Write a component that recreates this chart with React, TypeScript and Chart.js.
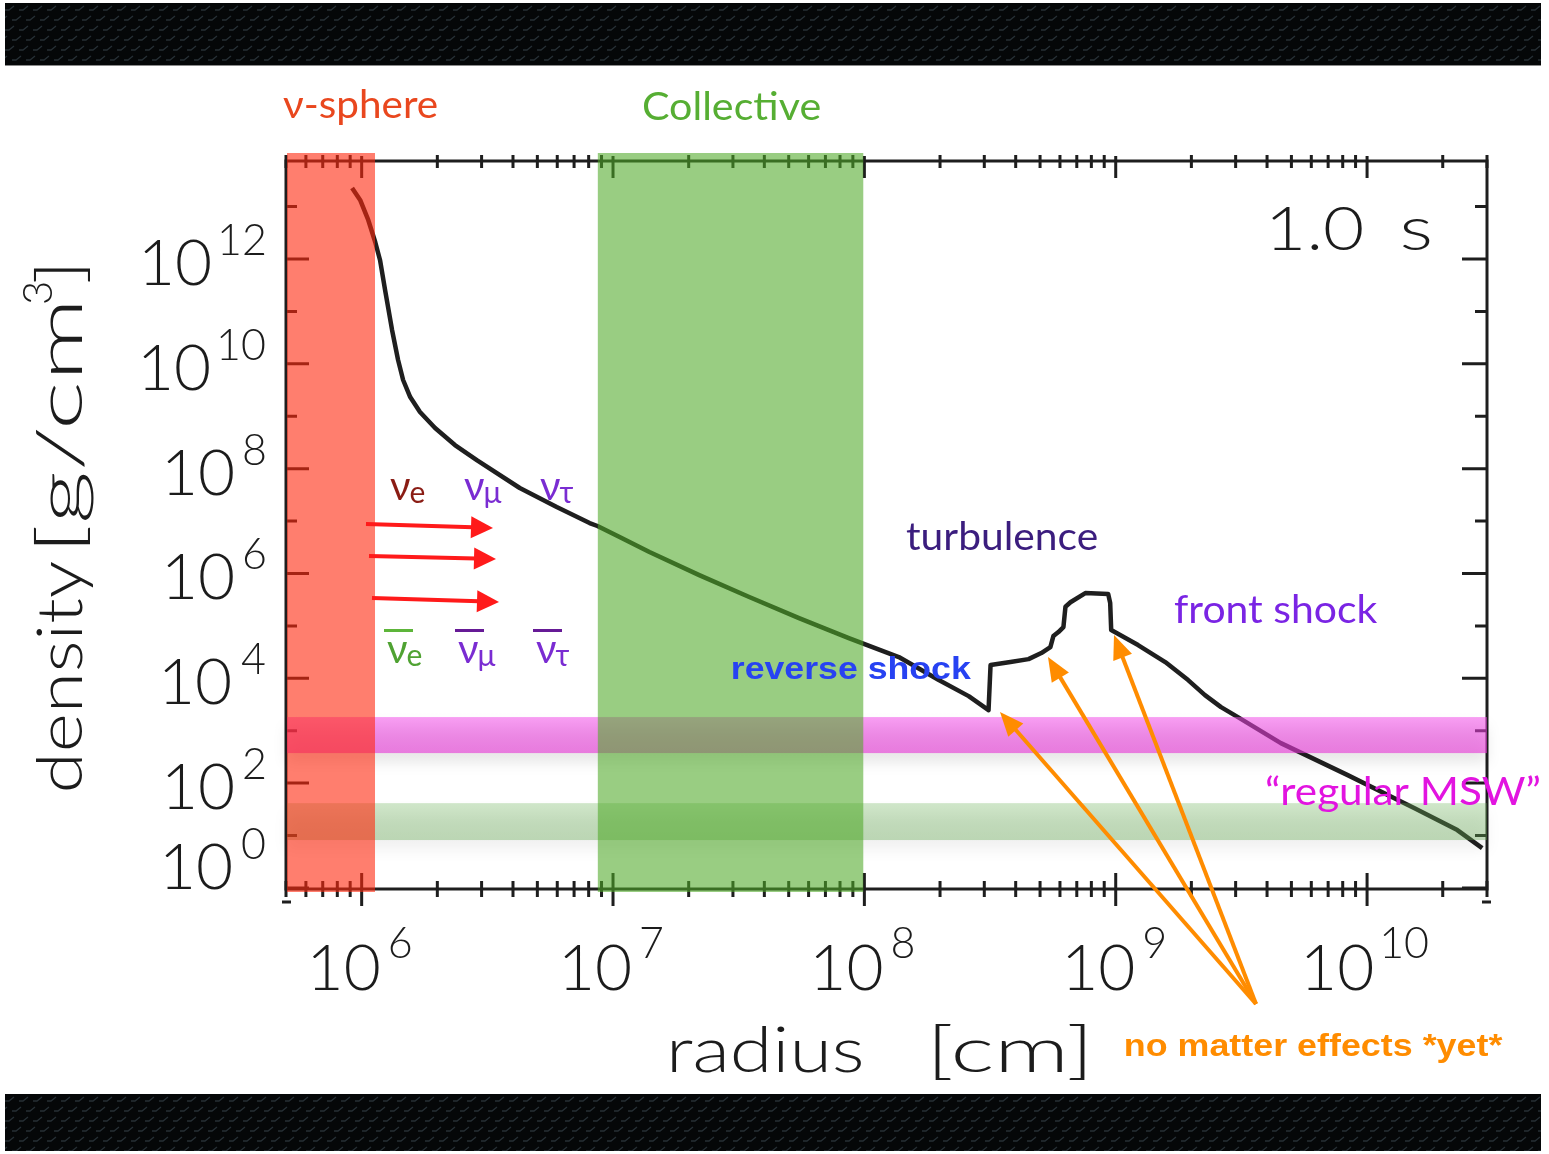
import React, { useEffect, useRef } from 'react';
import { Chart, registerables } from 'chart.js';

Chart.register(...registerables);

// ---- data ----
const RADIUS_CM = [9.16e5, 9.86e5, 1.062e6, 1.132e6, 1.183e6, 1.239e6, 1.321e6, 1.396e6, 1.462e6, 1.56e6, 1.706e6, 1.959e6, 2.35e6, 2.871e6, 4.256e6, 5.97e6, 8.07e6, 8.67e6, 1.062e7, 1.396e7, 2.203e7, 3.483e7, 5.495e7, 8.67e7, 1.371e8, 1.977e8, 2.6e8, 3.119e8, 3.177e8, 3.811e8, 4.498e8, 5.058e8, 5.495e8, 5.649e8, 5.916e8, 6.194e8, 6.31e8, 6.607e8, 7.568e8, 9.333e8, 9.506e8, 9.594e8, 1.227e9, 1.574e9, 1.941e9, 2.265e9, 2.624e9, 3.062e9, 4.539e9, 8.375e9, 1.545e10, 2.286e10, 2.871e10];
const DENSITY = [2.26e13, 1.34e13, 5.55e12, 2.11e12, 9.57e11, 2.56e11, 4.42e10, 1.18e10, 4.91e9, 2.32e9, 1.2e9, 5.96e8, 2.82e8, 1.46e8, 4.27e7, 1.85e7, 9.16e6, 8.04e6, 4.95e6, 2.56e6, 9.31e5, 3.55e5, 1.41e5, 5.85e4, 2.54e4, 9.25e3, 4.57e3, 2.47e3, 1.79e4, 2.04e4, 2.32e4, 3.03e4, 3.94e4, 6.38e4, 7.62e4, 9.48e4, 2.32e5, 2.82e5, 4.23e5, 4.05e5, 2.72e5, 8.32e4, 4.31e4, 2.04e4, 9.25e3, 4.78e3, 2.82e3, 1.82e3, 579, 142, 33.3, 12.7, 5.75];

const X_MIN = 5e5;
const X_MAX = 3e10;
const Y_MIN = 0.955;
const Y_MAX = 7.4e13;
const X_LABEL_DECADES = [6, 7, 8, 9, 10];
const Y_LABEL_DECADES = [0, 2, 4, 6, 8, 10, 12];
const X_TICK_DECADES = [5, 6, 7, 8, 9, 10];
const Y_TICK_DECADES = [0, 1, 2, 3, 4, 5, 6, 7, 8, 9, 10, 11, 12, 13];

const NU_SPHERE_RANGE = [5e5, 1.13e6];
const COLLECTIVE_RANGE = [8.7e6, 9.9e7];
const MSW_DENSITY_RANGE = [374, 1820];
const LOW_DENSITY_RANGE = [8.2, 41.5];

const FONT = "Lato, 'Noto Sans', 'DejaVu Sans', sans-serif";
const BOLD = "'Liberation Sans', Arial, sans-serif";
const AXW = 300;

function fitText(ctx: CanvasRenderingContext2D, text: string, left: number, right: number, baseline: number, font: string, color: string) {
  ctx.save();
  ctx.font = font;
  ctx.fillStyle = color;
  ctx.textAlign = 'left';
  ctx.textBaseline = 'alphabetic';
  const m = ctx.measureText(text);
  const l = -m.actualBoundingBoxLeft;
  const r = m.actualBoundingBoxRight;
  const sx = (right - left) / (r - l);
  ctx.translate(left - l * sx, baseline);
  ctx.scale(sx, 1);
  ctx.fillText(text, 0, 0);
  ctx.restore();
}

function plainText(ctx: CanvasRenderingContext2D, text: string, x: number, y: number, font: string, color: string, align: CanvasTextAlign = 'left') {
  ctx.save();
  ctx.font = font;
  ctx.fillStyle = color;
  ctx.textAlign = align;
  ctx.textBaseline = 'alphabetic';
  ctx.fillText(text, x, y);
  ctx.restore();
}

function arrow(ctx: CanvasRenderingContext2D, x1: number, y1: number, x2: number, y2: number, color: string, lw: number, hl: number, hw: number) {
  const a = Math.atan2(y2 - y1, x2 - x1);
  const bx = x2 - hl * Math.cos(a);
  const by = y2 - hl * Math.sin(a);
  ctx.save();
  ctx.strokeStyle = color;
  ctx.fillStyle = color;
  ctx.lineWidth = lw;
  ctx.lineCap = 'butt';
  ctx.beginPath();
  ctx.moveTo(x1, y1);
  ctx.lineTo(bx + 2 * Math.cos(a), by + 2 * Math.sin(a));
  ctx.stroke();
  ctx.beginPath();
  ctx.moveTo(x2, y2);
  ctx.lineTo(bx + hw * Math.sin(a), by - hw * Math.cos(a));
  ctx.lineTo(bx - hw * Math.sin(a), by + hw * Math.cos(a));
  ctx.closePath();
  ctx.fill();
  ctx.restore();
}

function darkBar(ctx: CanvasRenderingContext2D, x: number, y: number, w: number, h: number) {
  ctx.save();
  ctx.fillStyle = '#050708';
  ctx.fillRect(x, y, w, h);
  ctx.beginPath();
  ctx.rect(x, y, w, h);
  ctx.clip();
  ctx.strokeStyle = 'rgba(72,88,98,0.5)';
  ctx.lineWidth = 1.3;
  let row = 0;
  for (let yy = y + 2; yy < y + h + 10; yy += 10, row++) {
    const off = (row % 2) * 7;
    for (let xx = x - 14 + off; xx < x + w + 14; xx += 14) {
      ctx.beginPath();
      ctx.moveTo(xx, yy + 5);
      ctx.lineTo(xx + 4, yy + 5);
      ctx.lineTo(xx + 9, yy + 1);
      ctx.stroke();
    }
  }
  ctx.restore();
}

function powLabel(ctx: CanvasRenderingContext2D, exp: string, x: number, baseY: number, supY: number, align: 'center' | 'right') {
  ctx.save();
  ctx.font = `${AXW} 64px ${FONT}`;
  const mb = ctx.measureText('10');
  const wb = mb.actualBoundingBoxRight + mb.actualBoundingBoxLeft;
  ctx.font = `${AXW} 43px ${FONT}`;
  const me = ctx.measureText(exp);
  const we = me.actualBoundingBoxRight + me.actualBoundingBoxLeft;
  const gap = 11;
  const total = wb + gap + we;
  const left = align === 'center' ? x - total / 2 : x - total;
  ctx.fillStyle = '#1c1c1c';
  ctx.textAlign = 'left';
  ctx.font = `${AXW} 64px ${FONT}`;
  ctx.fillText('10', left + mb.actualBoundingBoxLeft, baseY);
  ctx.font = `${AXW} 43px ${FONT}`;
  ctx.fillText(exp, left + wb + gap + me.actualBoundingBoxLeft, supY);
  ctx.restore();
}

const overlay = {
  id: 'overlay',
  beforeDraw(chart: any) {
    const ctx: CanvasRenderingContext2D = chart.ctx;
    ctx.save();
    ctx.fillStyle = '#ffffff';
    ctx.fillRect(0, 0, chart.width, chart.height);
    darkBar(ctx, 5, 3, 1536, 62);
    darkBar(ctx, 5, 1094, 1536, 57);
    ctx.fillStyle = '#8a8a8a';
    ctx.fillRect(5, 65, 1536, 1);
    ctx.restore();
  },
  afterDraw(chart: any) {
    const ctx: CanvasRenderingContext2D = chart.ctx;
    const xs = chart.scales.x;
    const ys = chart.scales.y;
    const a = chart.chartArea;
    const L = a.left, R = a.right, T = a.top, B = a.bottom;

    // ---- frame and ticks ----
    ctx.save();
    ctx.strokeStyle = '#1e1e1e';
    ctx.lineWidth = 3;
    ctx.lineCap = 'butt';
    ctx.strokeRect(L, T, R - L, B - T);
    ctx.beginPath();
    for (const d of X_TICK_DECADES) {
      for (let m = 1; m <= 9; m++) {
        const v = m * Math.pow(10, d);
        if (v < X_MIN || v > X_MAX) continue;
        const px = xs.getPixelForValue(v);
        if (m === 1) {
          ctx.moveTo(px, T - 5); ctx.lineTo(px, T + 17);
          ctx.moveTo(px, B - 16); ctx.lineTo(px, B + 17);
        } else {
          ctx.moveTo(px, T - 6); ctx.lineTo(px, T + 7);
          ctx.moveTo(px, B - 8); ctx.lineTo(px, B + 8);
        }
      }
    }
    for (const d of Y_TICK_DECADES) {
      const py = ys.getPixelForValue(Math.pow(10, d));
      if (py < T - 1 || py > B + 1) continue;
      const major = d % 2 === 0;
      ctx.moveTo(L, py); ctx.lineTo(L + (major ? 23 : 11), py);
      ctx.moveTo(R, py); ctx.lineTo(R - (major ? 25 : 12), py);
    }
    ctx.stroke();
    ctx.beginPath();
    ctx.moveTo(L - 4, B + 13); ctx.lineTo(L + 5, B + 13);
    ctx.moveTo(R - 5, B + 13); ctx.lineTo(R + 4, B + 13);
    ctx.stroke();
    ctx.restore();

    // ---- horizontal bands ----
    const hband = (range: number[], c1: string, c2: string) => {
      const y1 = ys.getPixelForValue(range[1]);
      const y2 = ys.getPixelForValue(range[0]);
      ctx.save();
      const g = ctx.createLinearGradient(0, y1, 0, y2);
      g.addColorStop(0, c1);
      g.addColorStop(1, c2);
      ctx.fillStyle = g;
      ctx.shadowColor = 'rgba(0,0,0,0.16)';
      ctx.shadowBlur = 14;
      ctx.shadowOffsetY = 9;
      ctx.fillRect(L + 1, y1, R - L - 1, y2 - y1);
      ctx.restore();
    };
    hband(MSW_DENSITY_RANGE, 'rgba(242,70,232,0.52)', 'rgba(232,55,215,0.62)');
    hband(LOW_DENSITY_RANGE, 'rgba(110,180,90,0.32)', 'rgba(100,170,80,0.38)');

    // ---- vertical bands ----
    const vband = (range: number[], color: string) => {
      const x1 = Math.max(xs.getPixelForValue(range[0]), L + 1);
      const x2 = xs.getPixelForValue(range[1]);
      ctx.save();
      ctx.fillStyle = color;
      ctx.fillRect(x1, T - 8, x2 - x1, B - T + 11);
      ctx.restore();
    };
    vband(NU_SPHERE_RANGE, 'rgba(255,40,14,0.6)');
    vband(COLLECTIVE_RANGE, 'rgba(80,168,40,0.58)');

    // ---- tick labels ----
    for (const d of X_LABEL_DECADES) {
      const px = xs.getPixelForValue(Math.pow(10, d));
      powLabel(ctx, String(d), px, 990, 958, 'center');
    }
    for (const d of Y_LABEL_DECADES) {
      const py = ys.getPixelForValue(Math.pow(10, d));
      const base = Math.min(py + 26, B);
      powLabel(ctx, String(d), 265, base, base - 30, 'right');
    }

    // ---- axis titles ----
    fitText(ctx, 'radius', 672, 862, 1072, `${AXW} 64px ${FONT}`, '#1c1c1c');
    fitText(ctx, '[cm]', 935, 1085, 1072, `${AXW} 64px ${FONT}`, '#1c1c1c');
    ctx.save();
    ctx.translate(82, 0);
    ctx.rotate(-Math.PI / 2);
    fitText(ctx, 'density', -790, -562, 0, `${AXW} 64px ${FONT}`, '#1c1c1c');
    fitText(ctx, '[g/cm', -545, -305, 0, `${AXW} 64px ${FONT}`, '#1c1c1c');
    fitText(ctx, '3', -303, -283, -30, `${AXW} 42px ${FONT}`, '#1c1c1c');
    fitText(ctx, ']', -282, -268, 0, `${AXW} 64px ${FONT}`, '#1c1c1c');
    ctx.restore();

    fitText(ctx, '1.0', 1272, 1362, 250, `${AXW} 62px ${FONT}`, '#1c1c1c');
    fitText(ctx, 's', 1402, 1430, 250, `${AXW} 62px ${FONT}`, '#1c1c1c');

    // ---- annotations ----
    fitText(ctx, 'ν-sphere', 283, 437, 118, `400 38px ${FONT}`, '#E9471E');
    fitText(ctx, 'Collective', 643, 820, 120, `400 38px ${FONT}`, '#56AE33');
    fitText(ctx, 'turbulence', 906, 1097, 550, `400 38px ${FONT}`, '#3B1D7E');
    fitText(ctx, 'front shock', 1174, 1378, 623, `400 38px ${FONT}`, '#7A24E4');
    fitText(ctx, '“regular MSW”', 1266, 1540, 805, `400 38px ${FONT}`, '#E214E0');
    fitText(ctx, 'reverse shock', 733, 971, 679, `700 32px ${BOLD}`, '#2742F2');
    fitText(ctx, 'no matter effects *yet*', 1126, 1503, 1056, `700 32px ${BOLD}`, '#FF8C00');

    // neutrino labels
    const nu = (x: number, base: number, sub: string, color: string, bar?: string) => {
      plainText(ctx, 'ν', x, base, `400 40px ${FONT}`, color);
      ctx.save();
      ctx.font = `400 40px ${FONT}`;
      const w = ctx.measureText('ν').width;
      ctx.restore();
      plainText(ctx, sub, x + w - 1, base + 3, `400 30px ${FONT}`, color);
      if (bar) {
        ctx.save();
        ctx.fillStyle = bar;
        ctx.fillRect(x - 3, base - 34, 29, 3);
        ctx.restore();
      }
    };
    nu(390, 500, 'e', '#8A1C14');
    nu(464, 500, 'μ', '#7A2CD2');
    nu(540, 500, 'τ', '#7A2CD2');
    nu(387, 663, 'e', '#4FA232', '#5DB53A');
    nu(458, 663, 'μ', '#7A2CD2', '#661A96');
    nu(536, 663, 'τ', '#7A2CD2', '#661A96');

    // red arrows
    arrow(ctx, 366, 524, 493, 528, '#FF1A1A', 4, 22, 11);
    arrow(ctx, 369, 556, 496, 559, '#FF1A1A', 4, 22, 11);
    arrow(ctx, 372, 598, 499, 602, '#FF1A1A', 4, 22, 11);

    // orange arrows
    arrow(ctx, 1256, 1004, 1000, 712, '#FF8C00', 4, 24, 10);
    arrow(ctx, 1256, 1004, 1048, 657, '#FF8C00', 4, 24, 10);
    arrow(ctx, 1256, 1004, 1114, 635, '#FF8C00', 4, 24, 10);
  },
};

export default function App() {
  const ref = useRef<HTMLCanvasElement>(null);
  useEffect(() => {
    const canvas = ref.current;
    if (!canvas) return;
    const chart = new Chart(canvas, {
      type: 'line',
      data: {
        datasets: [
          {
            label: 'density',
            data: RADIUS_CM.map((r, i) => ({ x: r, y: DENSITY[i] })),
            borderColor: '#1f1f1f',
            borderWidth: 4.5,
            borderJoinStyle: 'round',
            pointRadius: 0,
            tension: 0,
            fill: false,
          },
        ],
      },
      options: {
        responsive: false,
        animation: false,
        events: [],
        layout: { padding: { left: 286, right: 62, top: 161, bottom: 265 } },
        scales: {
          x: { type: 'logarithmic', min: X_MIN, max: X_MAX, display: false },
          y: { type: 'logarithmic', min: Y_MIN, max: Y_MAX, display: false },
        },
        plugins: { legend: { display: false }, tooltip: { enabled: false } },
      },
      plugins: [overlay],
    } as any);
    return () => chart.destroy();
  }, []);
  return (
    <div style={{ position: 'absolute', left: 0, top: 0, width: 1549, height: 1154, background: '#fff' }}>
      <canvas ref={ref} width={1549} height={1154} style={{ display: 'block', width: 1549, height: 1154 }} />
    </div>
  );
}
